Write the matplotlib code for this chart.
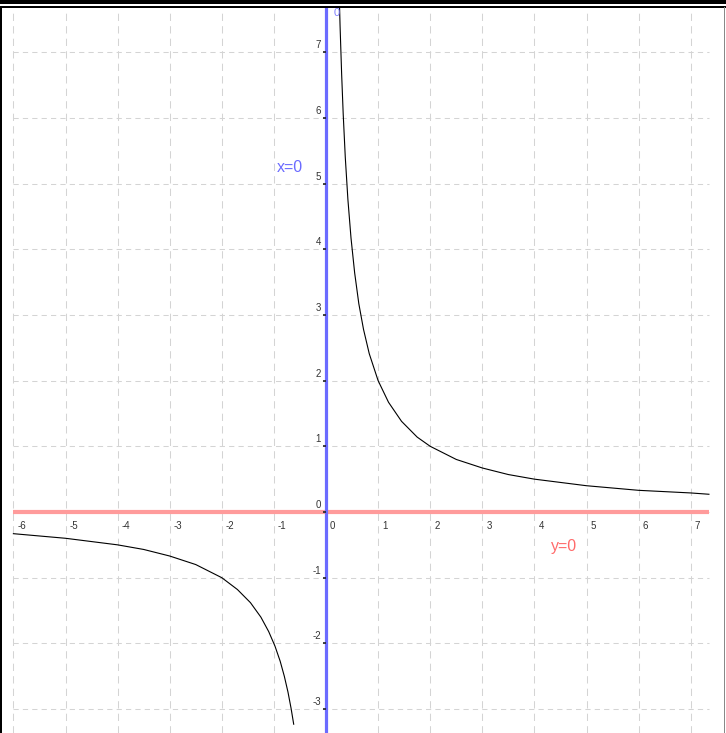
import matplotlib
matplotlib.use("Agg")
import matplotlib.pyplot as plt
from matplotlib.patches import Rectangle

plt.rcParams['font.family'] = ['Liberation Sans', 'DejaVu Sans']

# ---- data ----
pos_x = [0.21, 0.24, 0.27, 0.30, 0.33, 0.37, 0.42, 0.48, 0.55, 0.63, 0.72, 0.83,
         1.0, 1.2, 1.45, 1.75, 2.0, 2.5, 3.0, 3.5, 4.0, 5.0, 6.0, 7.0, 7.35]
pos_y = [9.5, 8.3, 7.4, 6.67, 6.06, 5.4, 4.76, 4.17, 3.64, 3.17, 2.78, 2.41,
         2.0, 1.67, 1.38, 1.14, 1.0, 0.8, 0.67, 0.57, 0.5, 0.4, 0.33, 0.29, 0.27]
neg_x = [-6.0, -5.0, -4.0, -3.5, -3.0, -2.5, -2.0, -1.7, -1.45, -1.25, -1.1,
         -0.98, -0.88, -0.8, -0.73, -0.67, -0.62]
neg_y = [-0.33, -0.4, -0.5, -0.57, -0.67, -0.8, -1.0, -1.18, -1.38, -1.6, -1.82,
         -2.04, -2.27, -2.5, -2.74, -2.99, -3.23]

x_ticks = [-6, -5, -4, -3, -2, -1, 0, 1, 2, 3, 4, 5, 6, 7]
y_ticks = [-3, -2, -1, 0, 1, 2, 3, 4, 5, 6, 7]
x_labels = ["-6", "-5", "-4", "-3", "-2", "-1", "0", "1", "2", "3", "4", "5", "6", "7"]
y_labels = ["-3", "-2", "-1", "0", "1", "2", "3", "4", "5", "6", "7"]
asym_v_label = "x=0"
asym_h_label = "y=0"
grid_x_end = 7.35

W, H = 726, 733
fig = plt.figure(figsize=(W / 100, H / 100), dpi=100)
fig.patch.set_facecolor('white')

def fx(px):
    return px / W

def fy(py):
    return 1 - py / H

# axes occupying pixel region x 3..724, y 8..733
ax = fig.add_axes([fx(3), 0, fx(724) - fx(3), 1 - 8 / H])
x0_px, ux = 326.0, 52.1
y0_px, uy = 512.0, 65.7
ax.set_xlim((3 - x0_px) / ux, (724 - x0_px) / ux)
ax.set_ylim((y0_px - 733) / uy, (y0_px - 8) / uy)
ax.axis('off')

grid_col = '#d4d4d4'
# vertical grid lines
for xv in x_ticks:
    ax.axvline(xv, color=grid_col, lw=0.75, ls=(0, (7, 5)), zorder=1)
# horizontal grid lines
for yv in y_ticks:
    ax.hlines(yv, x_ticks[0], grid_x_end, color=grid_col, lw=0.75,
              ls=(0, (5, 4)), zorder=1)

# asymptotes
ax.hlines(0, x_ticks[0], grid_x_end, color='#ff9b9b', lw=3.0, zorder=3)
ax.axvline(0, color='#6b6bff', lw=2.3, zorder=4)

# curve
ax.plot(pos_x, pos_y, color='black', lw=0.8, zorder=5)
ax.plot(neg_x, neg_y, color='black', lw=0.8, zorder=5)

tick_col = '#333333'
# x tick labels
for xv, lab in zip(x_ticks, x_labels):
    ax.annotate(lab, (xv, 0), xytext=(4, -9), textcoords='offset pixels',
                ha='left', va='top', fontsize=7, color=tick_col, zorder=6)
# y tick labels
for yv, lab in zip(y_ticks, y_labels):
    ax.annotate(lab, (0, yv), xytext=(-5, 2), textcoords='offset pixels',
                ha='right', va='bottom', fontsize=7, color=tick_col, zorder=6)
    ax.plot([-3.5 / ux, 0], [yv, yv], color='#222222', lw=1.2, zorder=4,
            solid_capstyle='butt')

# asymptote labels
ax.text((290 - x0_px) / ux, (y0_px - 167) / uy, asym_v_label, color='#6b6bff',
        fontsize=11.5, ha='center', va='center', zorder=6)
ax.text((564 - x0_px) / ux, (y0_px - 546) / uy, asym_h_label, color='#ff6b6b',
        fontsize=11.5, ha='center', va='center', zorder=6)
# partly hidden label at top
ax.text((336.5 - x0_px) / ux, (y0_px - 13) / uy, "0", color='#8080ff',
        fontsize=8, ha='center', va='center', zorder=6, clip_on=True)

# frame
fig.add_artist(Rectangle((0, fy(3.5)), 1, 3.5 / H, transform=fig.transFigure,
                         color='black', lw=0))
fig.add_artist(Rectangle((0, fy(8)), 1, 2 / H, transform=fig.transFigure,
                         color='black', lw=0))
fig.add_artist(Rectangle((0, 0), 2.2 / W, fy(7), transform=fig.transFigure,
                         color='black', lw=0))
fig.add_artist(Rectangle((fx(723.5), 0), 1.5 / W, fy(7), transform=fig.transFigure,
                         color='#888888', lw=0))

fig.savefig('out.png', dpi=100)
